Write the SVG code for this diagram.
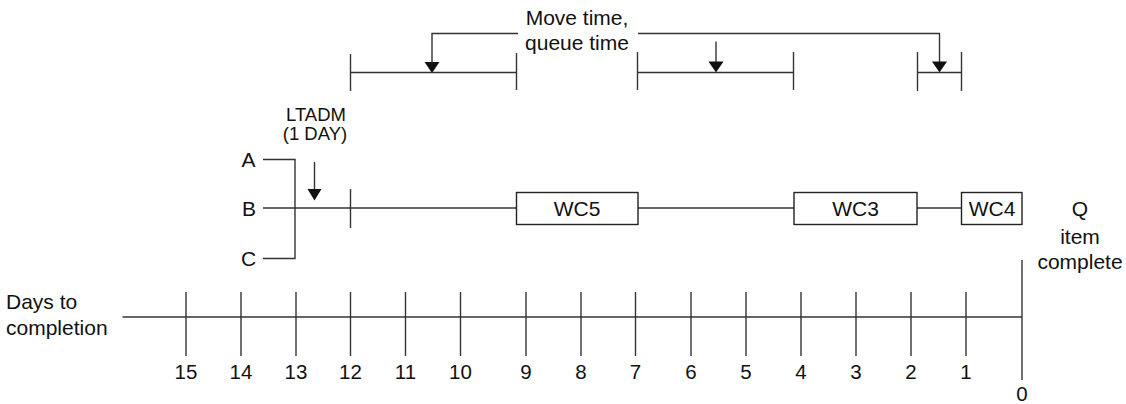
<svg xmlns="http://www.w3.org/2000/svg" width="1126" height="404" viewBox="0 0 1126 404">
<style>
text{font-family:"Liberation Sans",Arial,sans-serif;font-size:21px;fill:#111}
.s{font-size:18.5px}
.n{font-size:20.5px}
.c{text-anchor:middle}
line,polyline{stroke:#333;stroke-width:1.4;fill:none}
rect{fill:#fff;stroke:#222;stroke-width:1.4}
.ah{fill:#111;stroke:none}
</style>
<g id="connectors">
<polyline points="518,33.5 432,33.5 432,62"/>
<polygon class="ah" points="424.5,62 439.5,62 432,73"/>
<line x1="716" y1="41.5" x2="716" y2="62"/>
<polygon class="ah" points="708.5,61.5 723.5,61.5 716,72.5"/>
<polyline points="638,33.5 939.5,33.5 939.5,62"/>
<polygon class="ah" points="932,61.5 947,61.5 939.5,72.5"/>
<line x1="350.5" y1="72.5" x2="516.5" y2="72.5"/>
<line x1="350.5" y1="54" x2="350.5" y2="91"/>
<line x1="516.5" y1="53" x2="516.5" y2="90"/>
<line x1="637.5" y1="72.5" x2="793.5" y2="72.5"/>
<line x1="637.5" y1="52" x2="637.5" y2="90"/>
<line x1="793.5" y1="52" x2="793.5" y2="90"/>
<line x1="917.5" y1="72.5" x2="961.5" y2="72.5"/>
<line x1="917.5" y1="52" x2="917.5" y2="91"/>
<line x1="961.5" y1="52" x2="961.5" y2="91"/>
<polyline points="263,159.5 295,159.5 295,258.5 263,258.5"/>
<line x1="263" y1="208" x2="516" y2="208"/>
<line x1="638" y1="208" x2="794" y2="208"/>
<line x1="917" y1="208" x2="961" y2="208"/>
<line x1="350.5" y1="189" x2="350.5" y2="228"/>
<line x1="314.5" y1="162" x2="314.5" y2="190"/>
<polygon class="ah" points="307.5,189 321.5,189 314.5,200.5"/>
<line x1="122.5" y1="317" x2="1022" y2="317"/>
<line x1="186" y1="292" x2="186" y2="356"/>
<line x1="241" y1="292" x2="241" y2="356"/>
<line x1="296" y1="292" x2="296" y2="356"/>
<line x1="350.5" y1="292" x2="350.5" y2="356"/>
<line x1="405.5" y1="292" x2="405.5" y2="356"/>
<line x1="460.5" y1="292" x2="460.5" y2="356"/>
<line x1="526" y1="292" x2="526" y2="356"/>
<line x1="581" y1="292" x2="581" y2="356"/>
<line x1="635.5" y1="292" x2="635.5" y2="356"/>
<line x1="691" y1="292" x2="691" y2="356"/>
<line x1="746" y1="292" x2="746" y2="356"/>
<line x1="801" y1="292" x2="801" y2="356"/>
<line x1="856" y1="292" x2="856" y2="356"/>
<line x1="911" y1="292" x2="911" y2="356"/>
<line x1="966" y1="292" x2="966" y2="356"/>
<line x1="1022" y1="260" x2="1022" y2="380"/>
</g>
<g id="label-move-queue">
<text class="c" x="577" y="25">Move time,</text>
<text class="c" x="577" y="50">queue time</text>
</g>
<g id="label-ltadm">
<text class="s c" x="316" y="121">LTADM</text>
<text class="s c" x="315" y="140">(1 DAY)</text>
</g>
<g id="node-A"><text x="241.5" y="166.5">A</text></g>
<g id="node-B"><text x="242" y="215.5">B</text></g>
<g id="node-C"><text x="241" y="265.5">C</text></g>
<g id="node-WC5"><rect x="516.5" y="192.5" width="121.5" height="32"/><text class="c" x="577" y="216">WC5</text></g>
<g id="node-WC3"><rect x="794" y="192.5" width="123" height="32"/><text class="c" x="855.5" y="216">WC3</text></g>
<g id="node-WC4"><rect x="961.5" y="192.5" width="60.5" height="32"/><text class="c" x="992" y="216">WC4</text></g>
<g id="node-Q">
<text class="c" x="1080" y="216">Q</text>
<text class="c" x="1080" y="244">item</text>
<text class="c" x="1080" y="269">complete</text>
</g>
<g id="label-days">
<text x="6" y="309">Days to</text>
<text x="6" y="335">completion</text>
</g>
<g id="tick-labels">
<text class="n c" x="186" y="379">15</text>
<text class="n c" x="241" y="379">14</text>
<text class="n c" x="296" y="379">13</text>
<text class="n c" x="350.5" y="379">12</text>
<text class="n c" x="405.5" y="379">11</text>
<text class="n c" x="460.5" y="379">10</text>
<text class="n c" x="526" y="379">9</text>
<text class="n c" x="581" y="379">8</text>
<text class="n c" x="635.5" y="379">7</text>
<text class="n c" x="691" y="379">6</text>
<text class="n c" x="746" y="379">5</text>
<text class="n c" x="801" y="379">4</text>
<text class="n c" x="856" y="379">3</text>
<text class="n c" x="911" y="379">2</text>
<text class="n c" x="966" y="379">1</text>
<text class="n c" x="1022" y="401">0</text>
</g>
</svg>
